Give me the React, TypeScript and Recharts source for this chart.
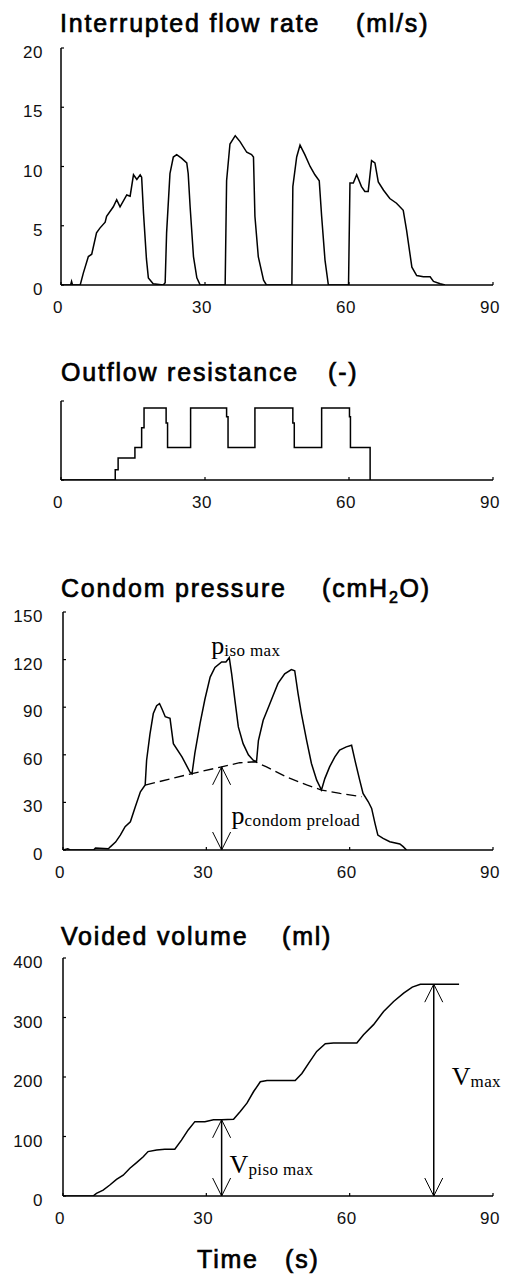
import { LineChart, Line, XAxis, YAxis, ReferenceLine, ReferenceDot } from 'recharts';

// time axis (s)
const timeTicks = [0, 30, 60, 90];

// interrupted flow rate (ml/s)
const flowTime = [
  0, 2.0, 2.2, 2.4, 4.0, 4.65, 5.7, 6.4, 7.4, 8.1, 9.2, 9.5, 10.9, 11.6, 12.3, 13.7, 14.4, 15.1, 15.8, 16.5,
  16.8, 17.2, 17.8, 18.2, 19.2, 21.3, 21.7, 22.0, 22.7, 23.4, 24.1, 25.1, 26.2, 26.5, 26.9, 27.6, 28.3, 29.0,
  34.2, 34.5, 35.2, 36.3, 37.3, 38.7, 39.7, 40.1, 40.4, 41.1, 42.2, 42.8, 48.1, 48.3, 49.1, 49.8, 50.8, 51.9,
  52.9, 53.8, 54.3, 55.0, 55.7, 59.9, 60.2, 60.9, 61.6, 62.6, 63.3, 64.0, 64.7, 65.4, 66.1, 67.2, 68.5, 69.9,
  71.3, 72.0, 73.1, 74.1, 75.5, 76.9, 77.6, 79.0, 80.0,
];
const flowRate = [
  0, 0, 0.3, 0, 0, 1.0, 2.4, 2.6, 4.4, 4.8, 5.3, 5.8, 6.6, 7.2, 6.6, 7.6, 7.5, 9.3, 8.9, 9.3,
  9.1, 6.0, 2.2, 0.6, 0.1, 0, 0.2, 4.4, 9.4, 10.8, 11.0, 10.7, 10.3, 9.4, 6.6, 2.4, 0.6, 0,
  0, 8.8, 11.9, 12.6, 12.1, 11.2, 11.0, 10.8, 5.8, 2.4, 0.4, 0, 0, 8.3, 10.8, 11.8, 11.0, 10.0,
  9.3, 8.8, 5.8, 2.1, 0, 0, 8.6, 8.6, 9.3, 8.3, 7.9, 7.9, 10.5, 10.3, 8.7, 8.0, 7.3, 6.9,
  6.3, 4.6, 1.5, 0.8, 0.7, 0.7, 0.3, 0.1, 0,
];
const flowTicks = [0, 5, 10, 15, 20];

// outflow resistance (-), stepped levels
const resTime = [0, 11.3, 11.9, 15.4, 16.8, 17.3, 21.9, 22.2, 27.0, 34.5, 34.8, 40.4, 48.3, 48.6, 54.3, 60.1, 60.3, 64.4];
const resLevel = [0, 0.13, 0.28, 0.41, 0.66, 0.91, 0.72, 0.41, 0.91, 0.8, 0.41, 0.91, 0.72, 0.41, 0.91, 0.8, 0.41, 0];

// condom pressure (cmH2O)
const pressTime = [
  0, 1.0, 1.5, 6.4, 6.8, 9.5, 9.9, 11.0, 12.0, 13.0, 14.1, 15.1, 16.2, 17.2, 17.5, 18.2, 18.9, 19.6, 20.2, 20.7,
  21.4, 22.4, 23.1, 24.9, 26.6, 27.0, 27.6, 28.7, 29.7, 30.8, 31.8, 33.2, 34.1, 34.8, 35.3, 36.0, 36.7, 37.7,
  38.8, 39.8, 40.5, 40.9, 41.9, 43.0, 44.0, 45.0, 46.4, 47.8, 48.5, 49.2, 49.9, 51.0, 52.0, 53.1, 54.1, 54.8,
  55.8, 56.9, 57.9, 59.3, 60.4, 61.1, 62.1, 62.8, 63.9, 64.6, 65.3, 65.9, 67.0, 68.4, 70.5, 71.2, 71.9,
];
const pressValue = [
  0, 0.8, 0, 0, 1.2, 0.8, 2, 5, 9.4, 14.7, 17.8, 27, 36.7, 41, 56.6, 73, 86, 91, 92.3, 89,
  84, 83, 67, 58.7, 49, 48, 61, 80, 95, 109, 115, 118.5, 118.5, 121.2, 111, 94, 77.6, 67,
  60, 56.6, 55.6, 69, 81.8, 90, 97.5, 105, 111, 113.7, 113, 98.6, 86, 69, 54.5, 44, 37.8, 45,
  52.4, 58.7, 63, 65, 66, 56.6, 44, 35.7, 30.4, 26.2, 16.8, 9.4, 7.3, 5.2, 3.8, 2.1, 0,
];
const preloadTime = [17.2, 27.0, 33.2, 37.0, 40.2, 42.6, 46.8, 51.0, 54.1, 58.0, 62.5];
const preloadValue = [40.9, 48.2, 52.4, 55, 55.6, 52.4, 46, 41, 37.8, 35.7, 33.6];
const pressTicks = [0, 30, 60, 90, 120, 150];

// voided volume (ml)
const volTime = [
  0, 6.3, 7.0, 8.4, 9.8, 11.2, 12.6, 14.0, 15.4, 16.8, 17.8, 19.6, 21.3, 23.4, 24.8, 26.2, 27.6, 29.7, 31.5, 33.2,
  35.7, 37.1, 38.5, 39.9, 41.3, 42.7, 48.6, 50.0, 51.4, 53.1, 54.9, 56.6, 61.5, 62.9, 65.0, 67.1, 69.2, 71.3,
  73.1, 74.8, 77.6, 82.9,
];
const volValue = [
  0, 0, 4.5, 10, 18.5, 28, 35, 46.6, 56, 66, 74.6, 77.4, 78.5, 78.5, 94, 111, 125, 125, 128, 128,
  129, 142, 156, 175.6, 192, 194, 194, 206, 223, 243, 256, 257, 257, 271, 288, 310, 327, 341,
  351, 356, 356, 356,
];
const volTicks = [0, 100, 200, 300, 400];

// annotation anchors
const pIsoMax = { t: 34.8, p: 121.2 };
const preloadArrow = { t: 33.2, p: 52.4 };
const vIsoArrow = { t: 33.2, v: 128 };
const vMaxArrow = { t: 77.6, v: 356 };

const zip = (xs: number[], ys: number[]) => xs.map((t, i) => ({ t, y: ys[i] }));

const sans = 'Liberation Sans, Arial, sans-serif';
const serif = 'Liberation Serif, Times New Roman, serif';
const tickFont = { fontFamily: sans, fontSize: 17, fill: '#111', letterSpacing: 0.5 };
const axisLine = { stroke: '#000', strokeWidth: 1.5 };
const tickLine = { stroke: '#000', strokeWidth: 1.2 };

const xAxis = () => (
  <XAxis
    type="number"
    dataKey="t"
    domain={[0, 90]}
    ticks={timeTicks}
    interval={0}
    height={44}
    tickSize={-3}
    tickMargin={19}
    axisLine={axisLine}
    tickLine={tickLine}
    tick={{ ...tickFont, dx: -3 }}
    allowDataOverflow
  />
);

const yAxis = (domain: number[], ticks: number[], width: number, labels = true) => (
  <YAxis
    type="number"
    domain={domain}
    ticks={ticks}
    interval={0}
    width={width}
    tickSize={-3}
    tickMargin={width - 40}
    axisLine={axisLine}
    tickLine={tickLine}
    tick={{ ...tickFont, dy: 4 }}
    tickFormatter={labels ? undefined : () => ''}
    allowDataOverflow
  />
);

function SubLabel({ x, y, main, sub }: { x: number; y: number; main: string; sub: string }) {
  return (
    <text x={x} y={y} fontFamily={serif} fill="#000">
      <tspan fontSize={26}>{main}</tspan>
      <tspan fontSize={17} dy={2} letterSpacing={0.4}>{sub}</tspan>
    </text>
  );
}

// double-headed vertical arrow with a label
const arrowShape = (main: string, sub: string, dx: number, dy: number) => (props: any) => {
  const x = props.x1;
  const yb = Math.max(props.y1, props.y2);
  const yt = Math.min(props.y1, props.y2);
  return (
    <g>
      <line x1={x} y1={yb} x2={x} y2={yt} stroke="#000" strokeWidth={1.5} />
      <polyline points={`${x - 9},${yt + 18} ${x},${yt} ${x + 9},${yt + 18}`} fill="none" stroke="#000" strokeWidth={1} />
      <polyline points={`${x - 9},${yb - 18} ${x},${yb} ${x + 9},${yb - 18}`} fill="none" stroke="#000" strokeWidth={1} />
      <SubLabel x={x + dx} y={yb + dy} main={main} sub={sub} />
    </g>
  );
};

const chartMargin = { top: 8, right: 19, bottom: 0, left: 0 };

export default function App() {
  return (
    <div style={{ position: 'absolute', left: 0, top: 0, width: 512, height: 1276, background: '#fff' }}>
      <svg width={512} height={1276} style={{ position: 'absolute', left: 0, top: 0 }}>
        <g fontFamily={sans} fontSize={25} fill="#000" stroke="#000" strokeWidth={0.7} letterSpacing={1.8}>
          <text x={60} y={32}>Interrupted flow rate</text>
          <text x={356} y={32}>(ml/s)</text>
          <text x={61} y={381}>Outflow resistance</text>
          <text x={328} y={381}>(-)</text>
          <text x={61} y={597}>Condom pressure</text>
          <text x={322} y={597}>
            (cmH<tspan fontSize={16} dy={6}>2</tspan>
            <tspan dy={-6}>O)</tspan>
          </text>
          <text x={61} y={945}>Voided volume</text>
          <text x={282} y={945}>(ml)</text>
          <text x={197} y={1268}>Time</text>
          <text x={285} y={1268}>(s)</text>
        </g>
      </svg>

      <div style={{ position: 'absolute', left: 0, top: 40 }}>
        <LineChart width={512} height={289} margin={chartMargin}>
          {xAxis()}
          {yAxis([0, 20], flowTicks, 61)}
          <Line data={zip(flowTime, flowRate)} dataKey="y" type="linear" stroke="#000" strokeWidth={1.5} dot={false} isAnimationActive={false} />
        </LineChart>
      </div>

      <div style={{ position: 'absolute', left: 0, top: 393 }}>
        <LineChart width={512} height={131} margin={chartMargin}>
          {xAxis()}
          {yAxis([0, 1], [0, 1], 61, false)}
          <Line data={zip(resTime, resLevel)} dataKey="y" type="stepAfter" stroke="#000" strokeWidth={1.5} dot={false} isAnimationActive={false} />
        </LineChart>
      </div>

      <div style={{ position: 'absolute', left: 0, top: 604 }}>
        <LineChart width={512} height={290} margin={chartMargin}>
          {xAxis()}
          {yAxis([0, 150], pressTicks, 63)}
          <Line data={zip(pressTime, pressValue)} dataKey="y" type="linear" stroke="#000" strokeWidth={1.5} dot={false} isAnimationActive={false} />
          <Line data={zip(preloadTime, preloadValue)} dataKey="y" type="linear" stroke="#000" strokeWidth={1.3} strokeDasharray="10 5" dot={false} isAnimationActive={false} />
          <ReferenceDot
            x={pIsoMax.t}
            y={pIsoMax.p}
            r={0}
            ifOverflow="visible"
            shape={(p: any) => <SubLabel x={p.cx - 18} y={p.cy - 4} main="p" sub="iso max" />}
          />
          <ReferenceLine
            segment={[{ x: preloadArrow.t, y: 0 }, { x: preloadArrow.t, y: preloadArrow.p }]}
            ifOverflow="visible"
            shape={arrowShape('p', 'condom preload', 10, -26)}
          />
        </LineChart>
      </div>

      <div style={{ position: 'absolute', left: 0, top: 950 }}>
        <LineChart width={512} height={290} margin={chartMargin}>
          {xAxis()}
          {yAxis([0, 400], volTicks, 63)}
          <Line data={zip(volTime, volValue)} dataKey="y" type="linear" stroke="#000" strokeWidth={1.5} dot={false} isAnimationActive={false} />
          <ReferenceLine
            segment={[{ x: vIsoArrow.t, y: 0 }, { x: vIsoArrow.t, y: vIsoArrow.v }]}
            ifOverflow="visible"
            shape={arrowShape('V', 'piso max', 8, -23)}
          />
          <ReferenceLine
            segment={[{ x: vMaxArrow.t, y: 0 }, { x: vMaxArrow.t, y: vMaxArrow.v }]}
            ifOverflow="visible"
            shape={arrowShape('V', 'max', 18, -111)}
          />
        </LineChart>
      </div>
    </div>
  );
}
